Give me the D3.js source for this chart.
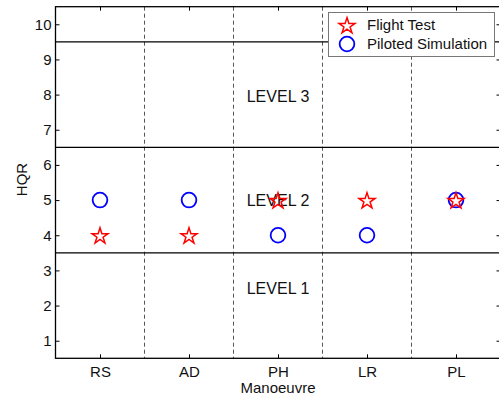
<!DOCTYPE html>
<html><head><meta charset="utf-8">
<script src="https://cdn.jsdelivr.net/npm/d3@7"></script>
<style>body{margin:0;background:#fff}svg{display:block}text{font-family:"Liberation Sans",Arial,sans-serif;}</style>
</head><body>
<svg id="c" width="499" height="398"></svg>
<script>
const categories = ["RS","AD","PH","LR","PL"];
const flightTest = [4,4,5,5,5];
const pilotedSim = [5,5,4,4,5];
const yTicks = [1,2,3,4,5,6,7,8,9,10];
const levelBounds = [3.5,6.5,9.5];
const levels = [{name:"LEVEL 1",y:2.5},{name:"LEVEL 2",y:5},{name:"LEVEL 3",y:7.95}];

const FS = 15;
const svg = d3.select("#c");
const L=55.5, R=500.5, T=6.7, B=358.3;
const x = d3.scaleLinear().domain([0.5,5.5]).range([L,R]);
const y = d3.scaleLinear().domain([0.5,10.5]).range([B,T]);

const g = svg.append("g");
g.selectAll(".sep").data([1.5,2.5,3.5,4.5]).enter().append("line")
 .attr("x1",d=>x(d)).attr("x2",d=>x(d)).attr("y1",T).attr("y2",B)
 .attr("stroke","#555").attr("stroke-dasharray","4,3").attr("stroke-width",1);
g.selectAll(".lb").data(levelBounds).enter().append("line")
 .attr("x1",L).attr("x2",R).attr("y1",d=>y(d)).attr("y2",d=>y(d))
 .attr("stroke","#000").attr("stroke-width",1.2);
g.selectAll(".lv").data(levels).enter().append("text")
 .attr("x",x(3)).attr("y",d=>y(d.y)).attr("dy","0.35em").attr("text-anchor","middle")
 .attr("font-size",16).attr("fill","#111").text(d=>d.name);

const yAxis = d3.axisLeft(y).tickValues(yTicks).tickSize(-4).tickPadding(4).tickFormat(d3.format("d"));
const yAxisR = d3.axisRight(y).tickValues(yTicks).tickSize(-4).tickFormat("");
const xAxis = d3.axisBottom(x).tickValues([1,2,3,4,5]).tickSize(-4).tickPadding(8).tickFormat((d,i)=>categories[i]);
const xAxisT = d3.axisTop(x).tickValues([1,2,3,4,5]).tickSize(-4).tickFormat("");
function style(sel){sel.select(".domain").remove();sel.selectAll("line").attr("stroke","#000");sel.selectAll("text").attr("font-size",FS).attr("fill","#111").attr("font-family","Liberation Sans, Arial, sans-serif");}
svg.append("g").attr("transform",`translate(${L},0)`).call(yAxis).call(style);
svg.append("g").attr("transform",`translate(${R},0)`).call(yAxisR).call(style);
svg.append("g").attr("transform",`translate(0,${B})`).call(xAxis).call(style);
svg.append("g").attr("transform",`translate(0,${T})`).call(xAxisT).call(style);
svg.append("rect").attr("x",L).attr("y",T).attr("width",R-L).attr("height",B-T)
 .attr("fill","none").attr("stroke","#000").attr("stroke-width",1.3);

const star = d3.symbol().type(d3.symbolStar).size(80);
const circ = d3.symbol().type(d3.symbolCircle).size(170);
svg.selectAll(".sim").data(pilotedSim).enter().append("path")
 .attr("d",circ).attr("transform",(d,i)=>`translate(${x(i+1)},${y(d)})`)
 .attr("fill","none").attr("stroke","#0000ff").attr("stroke-width",1.8);
svg.selectAll(".ft").data(flightTest).enter().append("path")
 .attr("d",star).attr("transform",(d,i)=>`translate(${x(i+1)},${y(d)+1})`)
 .attr("fill","none").attr("stroke","#ff0000").attr("stroke-width",1.5);

svg.append("text").attr("x",x(3)).attr("y",393).attr("text-anchor","middle").attr("font-size",15).attr("fill","#111").text("Manoeuvre");
svg.append("text").attr("transform",`translate(27,${(T+B)/2 - 3}) rotate(-90)`).attr("text-anchor","middle").attr("font-size",FS).attr("fill","#111").text("HQR");

const lg = svg.append("g");
lg.append("rect").attr("x",328.5).attr("y",12.5).attr("width",166).attr("height",44).attr("fill","#fff").attr("stroke","#777").attr("stroke-width",1);
lg.append("path").attr("d",star).attr("transform","translate(347,26)").attr("fill","none").attr("stroke","#ff0000").attr("stroke-width",1.5);
lg.append("path").attr("d",circ).attr("transform","translate(347,44)").attr("fill","none").attr("stroke","#0000ff").attr("stroke-width",1.8);
lg.append("text").attr("x",367).attr("y",25).attr("dy","0.35em").attr("font-size",FS).attr("fill","#111").text("Flight Test");
lg.append("text").attr("x",367).attr("y",44).attr("dy","0.35em").attr("font-size",FS).attr("fill","#111").text("Piloted Simulation");
</script>
</body></html>
